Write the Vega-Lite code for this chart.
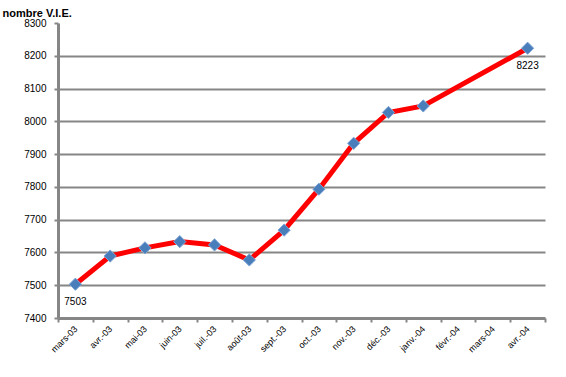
{
  "$schema": "https://vega.github.io/schema/vega-lite/v6.json",
  "autosize": {"type": "none"},
  "width": 487,
  "height": 295,
  "padding": {"left": 58, "top": 23, "right": 21, "bottom": 59},
  "background": "white",
  "config": {"view": {"stroke": null}, "font": "Liberation Sans"},
  "data": {
    "values": [
      {"mois": "mars-03", "nombre": 7503, "label": "7503"},
      {"mois": "avr.-03", "nombre": 7589, "label": ""},
      {"mois": "mai-03", "nombre": 7614, "label": ""},
      {"mois": "juin-03", "nombre": 7633, "label": ""},
      {"mois": "juil.-03", "nombre": 7623, "label": ""},
      {"mois": "août-03", "nombre": 7577, "label": ""},
      {"mois": "sept.-03", "nombre": 7668, "label": ""},
      {"mois": "oct.-03", "nombre": 7793, "label": ""},
      {"mois": "nov.-03", "nombre": 7933, "label": ""},
      {"mois": "déc.-03", "nombre": 8027, "label": ""},
      {"mois": "janv.-04", "nombre": 8047, "label": ""},
      {"mois": "févr.-04", "nombre": null, "label": ""},
      {"mois": "mars-04", "nombre": null, "label": ""},
      {"mois": "avr.-04", "nombre": 8223, "label": "8223"}
    ]
  },
  "encoding": {
    "x": {
      "field": "mois",
      "type": "ordinal",
      "sort": null,
      "scale": {"domain": ["mars-03","avr.-03","mai-03","juin-03","juil.-03","août-03","sept.-03","oct.-03","nov.-03","déc.-03","janv.-04","févr.-04","mars-04","avr.-04"], "paddingInner": 0, "paddingOuter": 0},
      "axis": {
        "title": null,
        "labelAngle": -45,
        "labelAlign": "right",
        "labelBaseline": "middle",
        "labelFontSize": 9,
        "labelColor": "#000000",
        "labelPadding": 5,
        "tickBand": "extent",
        "tickSize": 4,
        "tickColor": "#868686",
        "tickWidth": 2,
        "domainColor": "#868686",
        "domainWidth": 3,
        "grid": false
      }
    },
    "y": {
      "field": "nombre",
      "type": "quantitative",
      "scale": {"domain": [7400, 8300], "zero": false, "nice": false},
      "axis": {
        "values": [7400,7500,7600,7700,7800,7900,8000,8100,8200,8300],
        "format": "d",
        "title": "nombre V.I.E.",
        "titleAngle": 0,
        "titleAlign": "left",
        "titleBaseline": "alphabetic",
        "titleX": -56,
        "titleY": -7,
        "titleFontSize": 11,
        "titleFontWeight": "bold",
        "titleColor": "#000000",
        "labelFontSize": 10,
        "labelColor": "#000000",
        "labelPadding": 8,
        "tickSize": 4,
        "tickColor": "#868686",
        "tickWidth": 2,
        "domainColor": "#868686",
        "domainWidth": 3,
        "grid": true,
        "gridColor": "#868686",
        "gridWidth": 2,
        "gridOpacity": {"condition": {"test": "datum.value == 8300 || datum.value == 7400", "value": 0}, "value": 1}
      }
    }
  },
  "layer": [
    {"transform": [{"filter": "isValid(datum.nombre)"}], "mark": {"type": "line", "color": "#FF0000", "strokeWidth": 5}},
    {"transform": [{"filter": "isValid(datum.nombre)"}], "mark": {"type": "point", "shape": "diamond", "filled": true, "size": 150, "color": "#4A7EBB", "stroke": "#7FA6D6", "strokeWidth": 1, "opacity": 1}},
    {"transform": [{"filter": "isValid(datum.nombre)"}], "mark": {"type": "text", "dy": 18, "fontSize": 10, "color": "#000000"}, "encoding": {"text": {"field": "label"}}}
  ]
}
